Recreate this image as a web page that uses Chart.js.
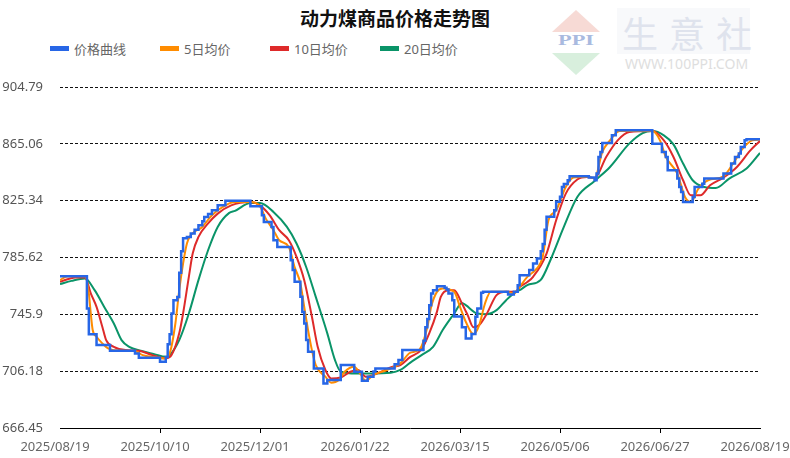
<!DOCTYPE html>
<html>
<head>
<meta charset="utf-8">
<script src="https://cdn.jsdelivr.net/npm/chart.js@4.4.1/dist/chart.umd.min.js"></script>
<style>
    body { margin: 0; background: #fff; font-family: "Noto Sans", "Noto Sans CJK SC", sans-serif; }
    #wrap { position: relative; width: 790px; height: 458px; overflow: hidden; }
    #chart { position: absolute; left: 0; top: 0; }
    .abs { position: absolute; white-space: nowrap; }
    #title { left: 0; width: 790px; top: 7px; text-align: center; font-size: 19px; font-weight: bold; color: #111; line-height: 22px; font-family: "Noto Sans CJK SC", sans-serif; }
    .lg-box { position: absolute; width: 19px; height: 5px; top: 46px; }
    .lg-txt { position: absolute; top: 40px; font-size: 13px; line-height: 18px; color: #666; font-family: "Noto Sans", "Noto Sans CJK SC", sans-serif; }
    .tri-up { left: 552px; top: 10px; width: 0; height: 0; border-left: 24px solid transparent; border-right: 24px solid transparent; border-bottom: 22px solid #f7dad5; }
    .tri-down { left: 552px; top: 53px; width: 0; height: 0; border-left: 24px solid transparent; border-right: 24px solid transparent; border-top: 22px solid #d8efdd; }
    .ppi { left: 552px; top: 32px; width: 48px; text-align: center; font: bold 14px/18px "Liberation Serif", serif; color: #a9badf; transform: scaleX(1.6); }
    .wm-box { left: 617px; top: 8px; width: 133px; height: 46px; background: #f8f9fb; }
    .wm-txt { left: 622px; top: 7px; font-size: 36px; line-height: 50px; letter-spacing: 11px; color: #dfe3ed; font-family: "Noto Sans CJK SC", sans-serif; }
    .wm-url { left: 625px; top: 57px; font-size: 14px; line-height: 14px; color: #dedede; }
</style>
</head>
<body>
<div id="wrap">
    <div class="abs wm-box"></div>
    <div class="abs tri-up"></div>
    <div class="abs ppi">PPI</div>
    <div class="abs tri-down"></div>
    <div class="abs wm-txt">生意社</div>
    <div class="abs wm-url">WWW.100PPI.COM</div>
    <div class="abs" id="title">动力煤商品价格走势图</div>
    <div id="legend"></div>
    <canvas id="chart" width="790" height="458"></canvas>
</div>
<script>
// x axis: day index from 2025/08/19, labels every 52 days
const xTickDays = [0, 52, 104, 156, 208, 260, 312, 364];
const xLabels = ["2025/08/19", "2025/10/10", "2025/12/01", "2026/01/22", "2026/03/15", "2026/05/06", "2026/06/27", "2026/08/19"];
const yTicks = [666.45, 706.18, 745.9, 785.62, 825.34, 865.06, 904.79];

const seriesNames = ["价格曲线", "5日均价", "10日均价", "20日均价"];
const seriesColors = ["#2766e6", "#ff8c00", "#de2a2a", "#0a9468"];

// price curve: day where a new price starts, and that price
const priceDays = [0, 14, 15, 19, 26, 39, 41, 52, 55, 56, 57, 58, 59, 61, 62, 63, 64, 66, 68, 70, 72, 74, 75, 77, 79, 82, 86,
    99, 105, 106, 110, 111, 113, 120, 121, 122, 125, 126, 127, 128, 129, 132, 137, 139, 146, 153, 157, 160, 163, 164, 174, 176, 178,
    189, 190, 191, 192, 193, 194, 196, 200, 201, 202, 204, 205, 209, 211, 214, 216, 217, 219, 220, 233, 236, 238, 239, 244, 246,
    248, 250, 251, 252, 253, 257, 258, 260, 261, 262, 264, 265, 275, 278, 279, 280, 281, 282, 287, 289,
    308, 313, 315, 316, 321, 322, 323, 324, 329, 330, 334, 335, 345, 349, 351, 353, 354, 356, 357, 364];
const priceVals = [772.6, 750, 732, 724.4, 720.4, 718.5, 715.5, 712.7, 716, 725, 732, 746.5, 755.8, 758, 775, 790, 799, 800, 802.4, 805, 808.2, 811, 814, 816, 818.6, 822.1, 825.3,
    821.4, 815.2, 810.5, 807, 797.7, 793, 783.7, 776.8, 768.6, 758.1, 747.6, 739.5, 728, 719.7, 708.1, 697.6, 700, 710.4, 705.8, 699.5, 702.3, 706, 708.1, 711, 714, 720.9,
    727.5, 736.8, 742.7, 752.3, 760.5, 762.8, 765.6, 764.5, 763.3, 760.5, 755.8, 744.3, 736.8, 729, 732.1, 744.2, 750, 761, 761.7, 759.8, 761.7, 766.3, 773.3, 776.8, 781.4,
    785, 790, 795, 805, 814.1, 818.6, 824.5, 828, 834.9, 837, 839.6, 842.4, 841.5, 839.6, 844.3, 855.9, 859.4, 865.7, 871, 874.5,
    865.2, 859.4, 855.9, 846.6, 840.8, 834.9, 831.4, 824.4, 827.9, 834.9, 837.2, 840.8, 844.3, 851.3, 855.9, 858.3, 862.8, 867.5, 868.2, 868.2];

const ma5Days = [0, 4, 13, 15, 16, 17, 19, 22, 25, 32, 39, 43, 49, 54, 57, 60, 62, 64, 66, 68, 74, 79, 86, 91, 99, 104, 107, 111, 114, 119,
    122, 125, 127, 129, 131, 133, 138, 141, 145, 148, 153, 156, 159, 163, 170, 177, 182, 187, 191, 193, 196, 199, 205, 208, 211, 215, 218,
    221, 224, 232, 236, 239, 243, 248, 251, 254, 258, 263, 267, 275, 278, 282, 286, 291, 308, 312, 315, 321, 325, 328, 332, 337, 345, 350, 355, 360, 364];
const ma5Vals = [769.8, 772.6, 772.6, 760.5, 746.5, 734.9, 730.2, 725.6, 722.1, 720.4, 720.2, 717.4, 716, 715.1, 718.6, 739.5, 762.8, 781.4, 795.4, 801.2, 807, 815.2, 822.1, 824.4, 824.4, 821.4, 812.8, 804.7, 797.7, 793,
    779, 767.5, 751.1, 734.9, 720.9, 710.4, 702.3, 698.1, 700, 705.8, 709.3, 704.6, 699.5, 703.5, 707, 711.6, 719, 721.4, 736.8, 751.1, 761.6, 764, 761.6, 751.1, 740.7, 732, 738.4,
    753.5, 761.6, 761.6, 760.5, 765.1, 772.1, 778, 786.1, 811.7, 818.6, 834.9, 841.5, 842, 840.8, 859.4, 867.5, 874, 874, 867.5, 855.9, 844.3, 827.9, 824.4, 833.8, 839.6, 842.4, 851.3, 861.7, 867.5, 868];

const ma10Days = [0, 8, 13, 16, 19, 22, 24, 28, 34, 41, 48, 55, 58, 62, 64, 67, 69, 72, 77, 82, 89, 99, 104, 109, 114, 119, 123, 127, 131,
    134, 138, 141, 146, 151, 155, 159, 165, 173, 177, 182, 188, 192, 196, 198, 202, 205, 209, 212, 215, 218, 222, 227, 232, 237, 239, 243,
    246, 253, 258, 263, 269, 274, 278, 284, 290, 296, 308, 314, 319, 324, 328, 333, 338, 345, 352, 359, 364];
const ma10Vals = [768.6, 771.7, 771.7, 760.5, 751.1, 737.2, 727.9, 723.2, 720.9, 720.4, 717.4, 715.1, 717.4, 732.6, 746.5, 772.1, 788.4, 800, 809.4, 816.3, 822.1, 824.4, 822.1, 815.2, 804.7, 797.7, 786.1, 769.8, 744.2,
    723.2, 707, 701.1, 701.8, 705.8, 707, 702.3, 704.6, 709.3, 710.4, 716, 721.4, 732.6, 747.6, 758.1, 762.8, 762.8, 753.5, 745.3, 736.8, 738.4, 746.5, 759.3, 761.7, 761.7, 765, 768.5,
    772.1, 788.4, 811.7, 830.3, 840.1, 841.9, 841, 855.9, 867.5, 873.3, 874, 867.5, 855.9, 839.6, 829.1, 829.1, 836.1, 841.5, 848.9, 860.5, 867];

const ma20Days = [0, 6, 13, 18, 23, 28, 32, 36, 42, 49, 55, 57, 62, 67, 72, 77, 82, 88, 91, 99, 104, 111, 118, 123, 128, 133, 139,
    143, 146, 154, 161, 172, 177, 182, 188, 194, 199, 205, 209, 211, 217, 222, 227, 232, 237, 239, 243, 250, 255, 262, 269, 278, 286,
    296, 303, 308, 314, 319, 324, 329, 335, 341, 348, 357, 364];
const ma20Vals = [767, 769.3, 771, 762.8, 751.1, 739.5, 727.9, 723.2, 720.4, 718.1, 716.2, 717.4, 727.9, 746.5, 769.8, 790.7, 807, 816.8, 818.2, 823.7, 823.7, 817.5, 807, 795.4, 779, 758.1, 732.6,
    713.9, 705.8, 704.6, 704.6, 705.1, 707, 712, 717.4, 723.2, 734.9, 746.5, 753.9, 752.3, 746.5, 746, 748.8, 755.8, 761.6, 762.8, 766.3, 770, 783.7, 807, 827.9, 839.1, 848.9,
    865.2, 872.6, 874, 871, 864.7, 851.3, 839.6, 834.9, 834.2, 840.8, 847.8, 858.7];

function pts(days, vals) {
    return days.map((d, i) => ({ x: d, y: vals[i] }));
}

// legend drawn as html, fixed spacing like the original
const legend = document.getElementById("legend");
seriesNames.forEach((name, i) => {
    const left = 50 + i * 110;
    legend.insertAdjacentHTML("beforeend",
        `<div class="lg-box" style="left:${left}px;background:${seriesColors[i]}"></div>` +
        `<div class="lg-txt" style="left:${left + 24}px">${name}</div>`);
});

Chart.defaults.font.family = '"Noto Sans", "Noto Sans CJK SC", sans-serif';

const lineBase = { pointRadius: 0, fill: false, borderJoinStyle: "miter" };

new Chart(document.getElementById("chart"), {
    type: "line",
    data: {
        datasets: [
            { ...lineBase, label: seriesNames[0], data: pts(priceDays, priceVals), borderColor: seriesColors[0], borderWidth: 2.5, stepped: true },
            { ...lineBase, label: seriesNames[1], data: pts(ma5Days, ma5Vals), borderColor: seriesColors[1], borderWidth: 2, cubicInterpolationMode: "monotone" },
            { ...lineBase, label: seriesNames[2], data: pts(ma10Days, ma10Vals), borderColor: seriesColors[2], borderWidth: 2, cubicInterpolationMode: "monotone" },
            { ...lineBase, label: seriesNames[3], data: pts(ma20Days, ma20Vals), borderColor: seriesColors[3], borderWidth: 2, cubicInterpolationMode: "monotone" }
        ]
    },
    options: {
        responsive: false,
        animation: false,
        devicePixelRatio: 1,
        layout: { padding: { top: 87, right: 30, left: 0, bottom: 0 } },
        plugins: { legend: { display: false }, tooltip: { enabled: false } },
        scales: {
            x: {
                type: "linear",
                min: 0,
                max: 364,
                afterBuildTicks: s => { s.ticks = xTickDays.map(v => ({ value: v })); },
                afterFit: s => { s.height = 30; s.paddingLeft = 0; s.paddingRight = 0; },
                ticks: {
                    autoSkip: false,
                    maxRotation: 0,
                    color: "#666",
                    font: { size: 13 },
                    padding: 6,
                    labelOffset: -5,
                    callback: v => xLabels[xTickDays.indexOf(v)]
                },
                grid: {
                    drawOnChartArea: false,
                    tickLength: 5,
                    color: c => (c.index === 0 || c.index === xTickDays.length - 1) ? "transparent" : "#000"
                },
                border: { display: true, color: "#000", width: 1 }
            },
            y: {
                min: 666.45,
                max: 904.79,
                afterBuildTicks: s => { s.ticks = yTicks.map(v => ({ value: v })); },
                afterFit: s => { s.width = 60; },
                ticks: { color: "#555", font: { size: 13 }, padding: 17, callback: v => String(v) },
                grid: { drawTicks: false, lineWidth: 1, color: c => c.index === 0 ? "transparent" : "#111" },
                border: { display: false, dash: [3, 2] }
            }
        }
    }
});
</script>
</body>
</html>
